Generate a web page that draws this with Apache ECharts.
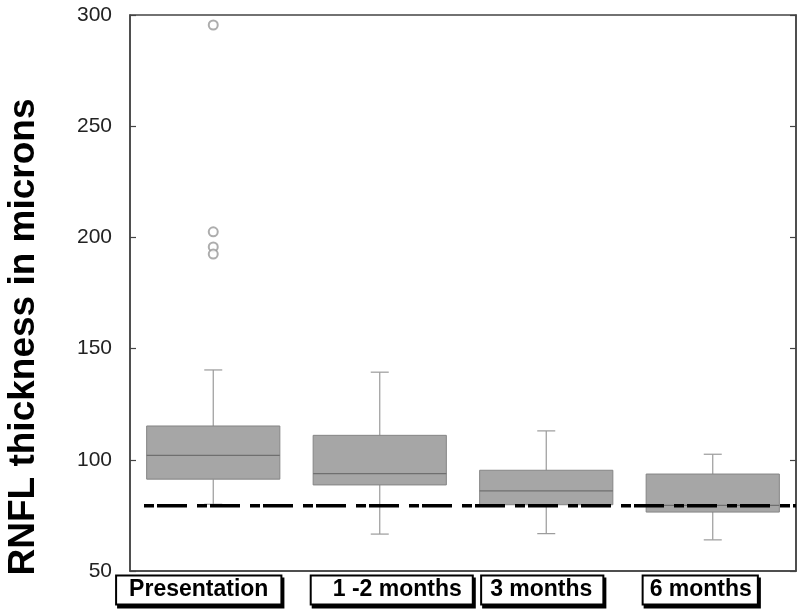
<!DOCTYPE html>
<html>
<head>
<meta charset="utf-8">
<script src="https://cdn.jsdelivr.net/npm/echarts@6/dist/echarts.min.js"></script>
<style>html,body{margin:0;padding:0;background:#fff}#c{width:800px;height:616px}</style>
</head>
<body>
<div id="c"></div>
<script>
const categories = ['Presentation', '1 -2 months', '3 months', '6 months'];
const whiskerLow = [80, 66.6, 66.8, 64];
const q1 = [91.3, 88.7, 79.8, 76.5];
const median = [102, 93.8, 86, 79.5];
const q3 = [115.2, 111, 95.3, 93.6];
const whiskerHigh = [140.4, 139.4, 113, 102.5];
const outlierCategory = [0, 0, 0, 0];
const outlierValues = [295.5, 202.5, 195.7, 192.5];
const referenceValue = 79.3;
const yMin = 50, yMax = 300, yStep = 50;

const boxData = categories.map((c, i) => [i, whiskerLow[i], q1[i], median[i], q3[i], whiskerHigh[i]]);
const outlierData = outlierValues.map((v, i) => [outlierCategory[i], v]);

// label box styling (padding differs per label as in the reference)
const padL = [12, 21, 8, 6];
const padR = [12, 10, 10, 5];
const spaceL = [0, 24, 0, 0];
const spaceR = [29, 0, 8, 25];
const rich = {};
categories.forEach((c, i) => {
  rich['b' + i] = {
    fontSize: 23, fontWeight: 'bold', fontFamily: 'Liberation Sans, Arial, sans-serif',
    color: '#000', lineHeight: 24,
    backgroundColor: '#fff', borderColor: '#000', borderWidth: 2,
    padding: [2, padR[i], 2, padL[i]],
    shadowColor: '#000', shadowOffsetX: 2, shadowOffsetY: 3, shadowBlur: 0
  };
  rich['l' + i] = { width: spaceL[i], fontSize: 10 };
  rich['r' + i] = { width: spaceR[i], fontSize: 10 };
});

const chart = echarts.init(document.getElementById('c'), null, { renderer: 'canvas' });
chart.setOption({
  animation: false,
  backgroundColor: '#fff',
  grid: { left: 130, right: 4, top: 15, bottom: 45, show: true, borderColor: '#444', borderWidth: 1.5,
          backgroundColor: 'transparent', containLabel: false, outerBoundsMode: 'none' },
  xAxis: [{
    type: 'category', data: categories,
    axisLine: { lineStyle: { color: '#444', width: 1.5 } },
    axisTick: { inside: true, length: 7, lineStyle: { color: '#333', width: 1.2 } },
    axisLabel: {
      margin: 7, interval: 0,
      formatter: (v, i) => (spaceL[i] ? '{l' + i + '| }' : '') + '{b' + i + '|' + v + '}' + (spaceR[i] ? '{r' + i + '| }' : ''),
      rich: rich
    }
  }, {
    type: 'value', min: 0, max: 100, show: false
  }],
  yAxis: [{
    type: 'value', min: yMin, max: yMax, interval: yStep,
    name: 'RNFL thickness in microns', nameLocation: 'middle', nameGap: 88,
    nameTextStyle: { fontSize: 37, fontWeight: 'bold', color: '#000', fontFamily: 'Liberation Sans, Arial, sans-serif', padding: [0, 88, 0, 0] },
    axisLine: { show: true, lineStyle: { color: '#444', width: 1.5 } },
    axisTick: { show: true, inside: true, length: 6, lineStyle: { color: '#444', width: 1.2 } },
    axisLabel: { margin: 18, fontSize: 21, color: '#222', fontFamily: 'Liberation Sans, Arial, sans-serif' },
    splitLine: { show: false }
  }, {
    type: 'value', min: yMin, max: yMax, interval: yStep, position: 'right',
    axisLine: { show: true, lineStyle: { color: '#444', width: 1.5 } },
    axisTick: { show: true, inside: true, length: 6, lineStyle: { color: '#444', width: 1.2 } },
    axisLabel: { show: false },
    splitLine: { show: false }
  }],
  series: [{
    type: 'custom',
    xAxisIndex: 0, yAxisIndex: 0,
    data: boxData,
    encode: { x: 0, y: [1, 2, 3, 4, 5] },
    z: 2,
    renderItem: function (params, api) {
      const i = api.value(0);
      const band = api.size([1, 0])[0];
      const bw = band * 0.8;
      const cap = 18;
      const pLow = api.coord([i, api.value(1)]);
      const pQ1 = api.coord([i, api.value(2)]);
      const pMed = api.coord([i, api.value(3)]);
      const pQ3 = api.coord([i, api.value(4)]);
      const pHigh = api.coord([i, api.value(5)]);
      const x = pMed[0];
      const wStyle = { stroke: '#9a9a9a', lineWidth: 1.2 };
      return {
        type: 'group',
        children: [
          { type: 'line', shape: { x1: x, y1: pQ3[1], x2: x, y2: pHigh[1] }, style: wStyle },
          { type: 'line', shape: { x1: x, y1: pQ1[1], x2: x, y2: pLow[1] }, style: wStyle },
          { type: 'line', shape: { x1: x - cap / 2, y1: pHigh[1], x2: x + cap / 2, y2: pHigh[1] }, style: wStyle },
          { type: 'line', shape: { x1: x - cap / 2, y1: pLow[1], x2: x + cap / 2, y2: pLow[1] }, style: wStyle },
          { type: 'rect', shape: { x: x - bw / 2, y: pQ3[1], width: bw, height: pQ1[1] - pQ3[1] },
            style: { fill: '#a6a6a6', stroke: '#858585', lineWidth: 1 } },
          { type: 'line', shape: { x1: x - bw / 2, y1: pMed[1], x2: x + bw / 2, y2: pMed[1] },
            style: { stroke: '#6f6f6f', lineWidth: 1.2 } }
        ]
      };
    }
  }, {
    type: 'scatter',
    xAxisIndex: 0, yAxisIndex: 0,
    data: outlierData,
    symbol: 'emptyCircle', symbolSize: 9,
    itemStyle: { color: '#999', borderColor: '#999', borderWidth: 1 },
    z: 3
  }, {
    type: 'line',
    xAxisIndex: 1, yAxisIndex: 0,
    data: [[2.1, referenceValue], [100, referenceValue]],
    symbol: 'none',
    lineStyle: { color: '#000', width: 3.5, type: [10, 3, 30, 10] },
    z: 4
  }]
});
</script>
</body>
</html>
